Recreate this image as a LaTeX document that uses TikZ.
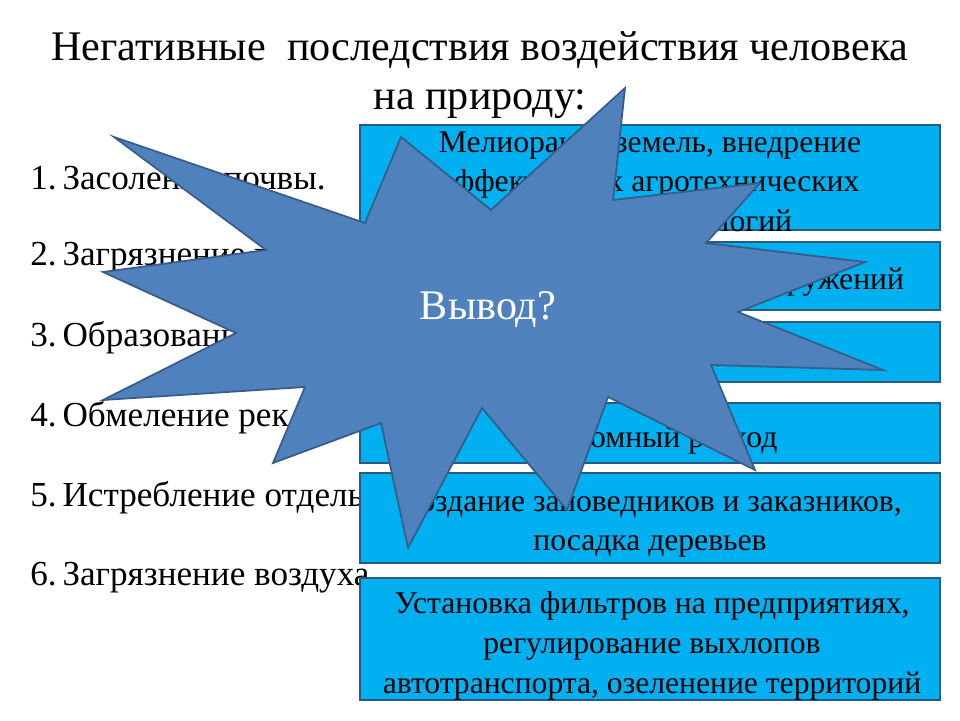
\documentclass[tikz,border=0pt]{standalone}
\usepackage{fontspec}
\setmainfont{LiberationSerif}[Extension=.ttf, UprightFont=*-Regular, BoldFont=*-Bold]
\usepackage{xcolor}
\definecolor{boxfill}{RGB}{0,176,240}
\definecolor{boxline}{RGB}{40,90,130}
\definecolor{starfill}{RGB}{79,129,189}
\definecolor{starline}{RGB}{56,93,138}
\tikzset{
  measure/.style={draw=boxline, line width=1.5pt, fill=boxfill},
  mtext/.style={align=center, font=\fontsize{18}{22.6}\selectfont, inner sep=0pt},
  item/.style={anchor=west, font=\fontsize{20}{22}\selectfont, inner sep=0pt}
}
\begin{document}
\begin{tikzpicture}[x=0.02cm, y=-0.02cm]
  \useasboundingbox (0,0) rectangle (960,720);
  % title
  \node (title) [align=center, font=\fontsize{24}{28}\selectfont] at (480,75)
    {Негативные\ \ последствия воздействия человека\\на природу:};
  % list of consequences
  \node (c1) [item] at (30,178) {1.\,Засоление почвы.};
  \node (c2) [item] at (30,258) {2.\,Загрязнение водоёмов.};
  \node (c3) [item] at (30,338) {3.\,Образование свалок.};
  \node (c4) [item] at (30,418) {4.\,Обмеление рек.};
  \node (c5) [item] at (30,498) {5.\,Истребление отдельных видов.};
  \node (c6) [item] at (30,578) {6.\,Загрязнение воздуха.};
  % measures
  \draw[measure] (360,125) rectangle (940,230);
  \node (m1) [mtext] at (650,185)
    {Мелиорация земель, внедрение\\эффективных агротехнических\\приёмов, технологий};
  \draw[measure] (360,242) rectangle (940,310);
  \node (m2) [mtext] at (650,282) {Строительство очистных сооружений};
  \draw[measure] (360,322) rectangle (940,382);
  \node (m3) [mtext] at (650,354) {Переработка отходов};
  \draw[measure] (360,403) rectangle (940,463);
  \node (m4) [mtext] at (650,440) {Экономный расход};
  \draw[measure] (360,473) rectangle (940,563);
  \node (m5) [mtext] at (650,524)
    {Создание заповедников и заказников,\\посадка деревьев};
  \draw[measure] (360,578) rectangle (940,700);
  \node (m6) [mtext] at (652,646)
    {Установка фильтров на предприятиях,\\регулирование выхлопов\\автотранспорта, озеленение территорий};
  % star
  \draw[fill=starfill, draw=starline, line width=1pt, line join=miter]
    (625,88) -- (613,200) -- (760,183) -- (706,243) -- (865,262)
    -- (738,312) -- (883,370) -- (711,365) -- (755,470) -- (608,397)
    -- (567,510) -- (482,408) -- (408,548) -- (381,423) -- (273,463)
    -- (305,387) -- (103,400) -- (236,333) -- (103,272) -- (266,250)
    -- (114,137) -- (365,223) -- (401,137) -- (491,210) -- cycle;
  \node (concl) [text=white, font=\fontsize{24}{26}\selectfont] at (488,310) {Вывод?};
\end{tikzpicture}
\end{document}
